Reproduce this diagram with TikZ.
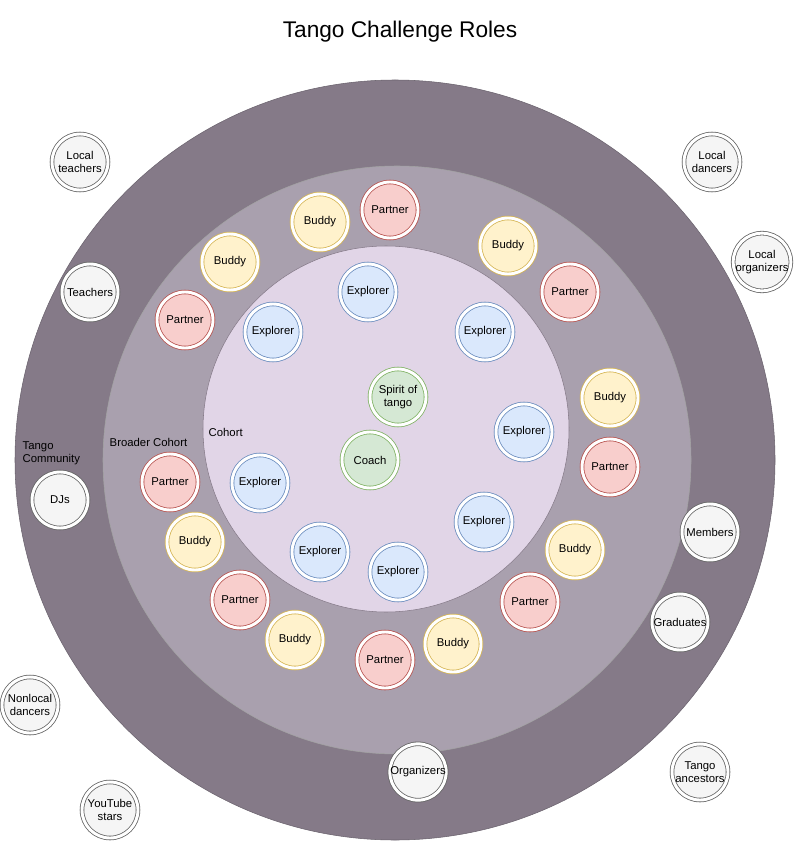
\documentclass[tikz,border=0pt]{standalone}
\usepackage{fontspec}
\setmainfont{Liberation Sans}
\definecolor{ring1}{HTML}{857A88}
\definecolor{ring2}{HTML}{A9A0AE}
\definecolor{ring3}{HTML}{E1D5E7}
\definecolor{pf}{HTML}{F8CECC}\definecolor{ps}{HTML}{B85450}
\definecolor{bf}{HTML}{FFF2CC}\definecolor{bs}{HTML}{D6B656}
\definecolor{ef}{HTML}{DAE8FC}\definecolor{es}{HTML}{6C8EBF}
\definecolor{gf}{HTML}{D5E8D4}\definecolor{gs}{HTML}{82B366}
\definecolor{nf}{HTML}{F5F5F5}\definecolor{ns}{HTML}{666666}
\begin{document}
\begin{tikzpicture}[x=0.75pt,y=-0.75pt,
 rc/.style={circle,draw=#1,line width=0.6pt,minimum size=42pt,inner sep=0pt,align=center,font=\fontsize{8.5}{9.5}\selectfont,double distance=2.2pt,double=white},
 partner/.style={rc=ps,fill=pf},
 buddy/.style={rc=bs,fill=bf},
 explorer/.style={rc=es,fill=ef},
 green/.style={rc=gs,fill=gf},
 grey/.style={rc=ns,fill=nf},
 lbl/.style={font=\fontsize{8.5}{10}\selectfont,align=left,anchor=west}]
\useasboundingbox (0,0) rectangle (793,841);
\fill[white] (0,0) rectangle (793,841);
\node at (400,32) {\fontsize{17}{20}\selectfont Tango Challenge Roles};
\path[fill=ring1, draw=ring1!80!black] (395,460) circle (380);
\path[draw=ns!60,fill=ring2] (397,460) circle (294);
\path[draw=ring1,fill=ring3] (386,429) circle (183);
\node[lbl] (tc) at (18,453) {Tango\\Community};
\node[lbl] (bc) at (105,442) {Broader Cohort};
\node[lbl] (co) at (204,432) {Cohort};
\foreach \n/\x/\y in {b1/320/222,b2/230/262,b3/508/246,b4/610/398,b5/195/542,b6/575/550,b7/295/640,b8/453/644}
 \node[buddy] (\n) at (\x,\y) {Buddy};
\foreach \n/\x/\y in {p1/390/210,p2/185/320,p3/570/292,p4/610/467,p5/170/482,p6/240/600,p7/530/602,p8/385/660}
 \node[partner] (\n) at (\x,\y) {Partner};
\foreach \n/\x/\y in {e1/368/292,e2/273/332,e3/485/332,e4/524/432,e5/260/483,e6/484/522,e7/320/552,e8/398/572}
 \node[explorer] (\n) at (\x,\y) {Explorer};
\node[green] (sp) at (398,397) {Spirit of\\tango};
\node[green] (coach) at (370,460) {Coach};
\node[grey] (lt) at (80,162) {Local\\teachers};
\node[grey] (te) at (90,292) {Teachers};
\node[grey] (dj) at (60,500) {DJs};
\node[grey] (nd) at (30,705) {Nonlocal\\dancers};
\node[grey] (yt) at (110,810) {YouTube\\stars};
\node[grey] (org) at (418,772) {Organizers};
\node[grey] (ta) at (700,772) {Tango\\ancestors};
\node[grey] (gr) at (680,622) {Graduates};
\node[grey] (me) at (710,532) {Members};
\node[grey] (lo) at (762,262) {Local\\organizers};
\node[grey] (ld) at (712,162) {Local\\dancers};
\end{tikzpicture}
\end{document}
